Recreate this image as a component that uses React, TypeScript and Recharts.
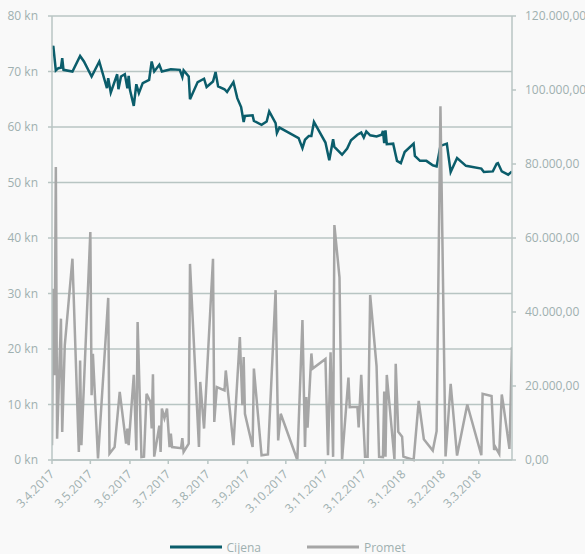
import React from "react";
import { LineChart, Line, XAxis, YAxis, CartesianGrid, Legend } from "recharts";

const seriesNames = ["Cijena", "Promet"];

const cijenaDates = [
  "2017-04-03","2017-04-04","2017-04-06","2017-04-08","2017-04-10","2017-04-11","2017-04-12","2017-04-19","2017-04-25","2017-04-28",
  "2017-05-04","2017-05-10","2017-05-16","2017-05-17","2017-05-19","2017-05-24","2017-05-25","2017-05-27","2017-05-30",
  "2017-06-01","2017-06-02","2017-06-03","2017-06-06","2017-06-08","2017-06-10","2017-06-13","2017-06-18","2017-06-20","2017-06-22","2017-06-26","2017-06-28",
  "2017-07-05","2017-07-12","2017-07-14","2017-07-15","2017-07-19","2017-07-20","2017-07-26","2017-07-31",
  "2017-08-02","2017-08-07","2017-08-09","2017-08-11","2017-08-16","2017-08-18","2017-08-23","2017-08-26","2017-08-29","2017-08-31",
  "2017-09-01","2017-09-07","2017-09-08","2017-09-14","2017-09-18","2017-09-20","2017-09-25","2017-09-26","2017-09-28",
  "2017-10-02","2017-10-13","2017-10-16","2017-10-18","2017-10-21","2017-10-23","2017-10-25",
  "2017-11-03","2017-11-06","2017-11-09","2017-11-10","2017-11-16","2017-11-20","2017-11-23","2017-11-28",
  "2017-12-01","2017-12-03","2017-12-05","2017-12-08","2017-12-13","2017-12-17","2017-12-18","2017-12-19","2017-12-20","2017-12-21","2017-12-26","2017-12-29",
  "2018-01-01","2018-01-04","2018-01-11","2018-01-12","2018-01-16","2018-01-21","2018-01-26","2018-01-29",
  "2018-02-01","2018-02-06","2018-02-09","2018-02-14","2018-02-21",
  "2018-03-05","2018-03-07","2018-03-14","2018-03-17","2018-03-18","2018-03-21","2018-03-26","2018-03-29",
];

const cijenaValues = [
  74.0, 74.6, 70.2, 70.6, 70.7, 72.4, 70.3, 70.0, 72.8, 71.8,
  69.1, 71.8, 67.0, 68.8, 66.2, 69.5, 66.8, 69.1, 69.5,
  67.0, 69.2, 66.7, 63.8, 67.7, 66.1, 67.9, 68.5, 71.8, 70.0, 71.2, 70.0,
  70.4, 70.3, 69.0, 70.2, 69.1, 65.0, 68.1, 68.7,
  67.2, 68.2, 69.9, 67.3, 66.8, 66.3, 68.1, 65.2, 63.6, 60.9,
  62.0, 62.1, 61.1, 60.4, 61.0, 62.8, 60.7, 58.9, 59.9,
  59.4, 58.0, 56.2, 57.7, 58.4, 58.4, 60.9,
  57.2, 54.0, 57.8, 56.4, 55.0, 56.1, 57.6, 58.6,
  59.0, 58.1, 59.2, 58.5, 58.3, 58.6, 59.3, 57.1, 59.4, 56.9, 57.0, 53.9,
  53.5, 55.5, 57.0, 54.8, 53.9, 53.9, 53.1, 52.9,
  56.6, 57.0, 51.9, 54.4, 53.0,
  52.5, 51.9, 52.0, 53.4, 53.5, 52.0, 51.4, 52.0,
];

const prometDates = [
  "2017-04-03","2017-04-04","2017-04-05","2017-04-06","2017-04-07","2017-04-10","2017-04-11","2017-04-13","2017-04-19","2017-04-24","2017-04-25","2017-04-26",
  "2017-05-03","2017-05-04","2017-05-05","2017-05-09","2017-05-10","2017-05-17","2017-05-18","2017-05-22","2017-05-26","2017-05-31",
  "2017-06-01","2017-06-02","2017-06-06","2017-06-08","2017-06-09","2017-06-12","2017-06-14","2017-06-16","2017-06-19","2017-06-20","2017-06-21","2017-06-22","2017-06-26","2017-06-27","2017-06-28","2017-06-30",
  "2017-07-02","2017-07-04","2017-07-05","2017-07-06","2017-07-13","2017-07-14","2017-07-15","2017-07-19","2017-07-20","2017-07-27","2017-07-28","2017-07-31",
  "2017-08-07","2017-08-08","2017-08-10","2017-08-16","2017-08-17","2017-08-23","2017-08-28","2017-08-30","2017-08-31",
  "2017-09-01","2017-09-07","2017-09-08","2017-09-14","2017-09-19","2017-09-25","2017-09-27","2017-09-29",
  "2017-10-12","2017-10-16","2017-10-18","2017-10-19","2017-10-20","2017-10-23","2017-10-24",
  "2017-11-03","2017-11-05","2017-11-07","2017-11-09","2017-11-10","2017-11-14","2017-11-16","2017-11-21","2017-11-22","2017-11-28","2017-11-29",
  "2017-12-01","2017-12-04","2017-12-06","2017-12-08","2017-12-13","2017-12-15","2017-12-18","2017-12-19","2017-12-20","2017-12-21","2017-12-27","2017-12-28","2017-12-30",
  "2018-01-02","2018-01-03","2018-01-11","2018-01-15","2018-01-19","2018-01-26","2018-01-29",
  "2018-02-01","2018-02-05","2018-02-09","2018-02-14","2018-02-22",
  "2018-03-05","2018-03-06","2018-03-13","2018-03-15","2018-03-16","2018-03-19","2018-03-21","2018-03-22","2018-03-27","2018-03-29",
];

const prometValues = [
  4000, 46300, 22900, 79200, 5750, 38200, 7570, 31000, 54400, 2160, 26900, 4000,
  61600, 17500, 28700, 400, 5750, 43800, 1700, 3500, 18400, 4400,
  8500, 4000, 23000, 2600, 37300, 800, 900, 17900, 15700, 8500, 23200, 900, 9300, 2200, 13900, 11300,
  13900, 3500, 7100, 3500, 3200, 5900, 2200, 4400, 53000, 3500, 21100, 8500,
  54400, 10300, 19700, 18800, 24200, 4000, 33200, 14800, 27800,
  12500, 3500, 24700, 1270, 1500, 45900, 5300, 12500,
  0, 37800, 3500, 17000, 8700, 28800, 24700,
  27300, 1300, 29100, 850, 63500, 49300, 0, 22300, 14300, 14400, 8800,
  23000, 850, 850, 44600, 25400, 850, 750, 18500, 900, 23000, 200, 26000, 7600,
  6300, 900, 0, 16000, 5600, 2550, 7800,
  95600, 950, 20600, 1200, 15000,
  1300, 17900, 17300, 2700, 3500, 1650, 17700, 15500, 3000, 30500,
];

const tickDates = [
  "2017-04-03","2017-05-03","2017-06-03","2017-07-03","2017-08-03","2017-09-03",
  "2017-10-03","2017-11-03","2017-12-03","2018-01-03","2018-02-03","2018-03-03",
];
const tickLabels = [
  "3.4.2017","3.5.2017","3.6.2017","3.7.2017","3.8.2017","3.9.2017",
  "3.10.2017","3.11.2017","3.12.2017","3.1.2018","3.2.2018","3.3.2018",
];
const axisStart = "2017-04-03";
const axisEnd = "2018-03-29";

const leftTicks = [0, 10, 20, 30, 40, 50, 60, 70, 80];
const rightTicks = [0, 20000, 40000, 60000, 80000, 100000, 120000];

const toDay = (s: string) => Date.parse(s + "T00:00:00Z") / 86400000;

const cijenaData = cijenaDates.map((d, i) => ({ t: toDay(d), cijena: cijenaValues[i] }));
const prometData = prometDates.map((d, i) => ({ t: toDay(d), promet: prometValues[i] }));
const tickDays = tickDates.map(toDay);

const TEAL = "#0b5d6b";
const GRAY = "#a6a6a6";
const GRID = "#b8c5c3";
const TEXT = "#9fb0b0";
const FONT = "'Open Sans', sans-serif";

const fmtRight = (v: number) =>
  String(Math.round(v)).replace(/\B(?=(\d{3})+(?!\d))/g, ".") + ",00";

const XTick = (props: any) => {
  const { x, y, payload } = props;
  const idx = tickDays.indexOf(payload.value);
  const label = idx >= 0 ? tickLabels[idx] : "";
  const ax = x + 3;
  const ay = y + 9;
  return (
    <text
      x={ax}
      y={ay}
      textAnchor="end"
      transform={`rotate(-45 ${ax} ${ay})`}
      fill={TEXT}
      fontSize={12}
      fontFamily={FONT}
    >
      {label}
    </text>
  );
};

const LegendContent = () => {
  const colors = [TEAL, GRAY];
  return (
    <div
      style={{
        display: "flex",
        justifyContent: "center",
        alignItems: "center",
        height: 20,
        position: "relative",
        top: 3,
        left: -5,
        fontFamily: FONT,
        fontSize: 12,
        color: TEXT,
      }}
    >
      {seriesNames.map((n, i) => (
        <div key={n} style={{ display: "flex", alignItems: "center", marginRight: i === 0 ? 46 : 0 }}>
          <svg width={52} height={6} style={{ marginRight: 5 }}>
            <line x1={0} y1={3} x2={52} y2={3} stroke={colors[i]} strokeWidth={3} />
          </svg>
          <span>{n}</span>
        </div>
      ))}
    </div>
  );
};

export default function App() {
  return (
    <div style={{ position: "absolute", left: 0, top: 0, width: 585, height: 554, background: "#f9f9f9" }}>
      <LineChart width={585} height={554} margin={{ top: 16, right: 0, left: 0, bottom: 0 }}>
        <CartesianGrid yAxisId="left" horizontal={true} vertical={false} stroke={GRID} strokeWidth={1.5} />
        <XAxis
          dataKey="t"
          type="number"
          domain={[toDay(axisStart), toDay(axisEnd)]}
          ticks={tickDays}
          tick={<XTick />}
          interval={0}
          height={74}
          stroke={GRID}
          strokeWidth={1.5}
          tickSize={4}
          allowDataOverflow
        />
        <YAxis
          yAxisId="left"
          domain={[0, 80]}
          ticks={leftTicks}
          tickFormatter={(v: number) => `${v} kn`}
          width={52}
          stroke={GRID}
          strokeWidth={1.5}
          tickSize={4}
          tickMargin={10}
          tick={{ fill: TEXT, fontSize: 12, fontFamily: FONT }}
          interval={0}
        />
        <YAxis
          yAxisId="right"
          orientation="right"
          domain={[0, 120000]}
          ticks={rightTicks}
          tickFormatter={fmtRight}
          width={73}
          stroke={GRID}
          strokeWidth={1.5}
          tickSize={4}
          tickMargin={9}
          tick={{ fill: TEXT, fontSize: 12, fontFamily: FONT }}
          interval={0}
        />
        <Line
          data={cijenaData}
          yAxisId="left"
          dataKey="cijena"
          name={seriesNames[0]}
          stroke={TEAL}
          strokeWidth={2.5}
          dot={false}
          activeDot={false}
          isAnimationActive={false}
        />
        <Line
          data={prometData}
          yAxisId="right"
          dataKey="promet"
          name={seriesNames[1]}
          stroke={GRAY}
          strokeWidth={2.5}
          dot={false}
          activeDot={false}
          isAnimationActive={false}
        />
        <Legend verticalAlign="bottom" height={20} content={<LegendContent />} />
      </LineChart>
    </div>
  );
}
